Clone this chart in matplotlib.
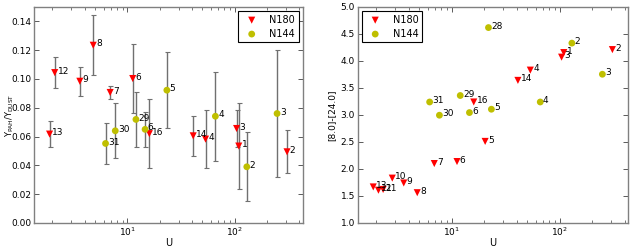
import numpy as np
import matplotlib
matplotlib.use('Agg')
import matplotlib.pyplot as plt

# N180 objects
n180_names = ['1', '2', '3', '4', '5', '6', '7', '8', '9', '10', '11', '12', '13', '14', '16']
n180_u = [109, 307, 104, 53.4, 20.4, 11.2, 6.9, 4.8, 3.6, 2.82, 2.32, 2.1, 1.88, 41, 16]
n180_ypah = [0.0534, 0.0494, 0.0656, 0.0582, np.nan, 0.1003, 0.0906, 0.1234, 0.0984,
             np.nan, np.nan, 0.1044, 0.0617, 0.0605, 0.062]
n180_err = [0.030, 0.015, 0.013, 0.020, np.nan, 0.024, 0.0047, 0.021, 0.010,
            np.nan, np.nan, 0.011, 0.009, 0.014, 0.024]
n180_col = [4.155, 4.21, 4.07, 3.83, 2.51, 2.137, 2.10, 1.56, 1.74, 1.83, 1.62, 1.606, 1.667, 3.64, 3.24]

# N144 objects
n144_names = ['2', '3', '4', '5', '6', '28', '29', '30', '31']
n144_u = [129.5, 248, 66, 23.3, 14.6, 21.9, 12.0, 7.7, 6.25]
n144_ypah = [0.039, 0.076, 0.0741, 0.0922, 0.065, np.nan, 0.0719, 0.064, 0.0552]
n144_err = [0.024, 0.044, 0.031, 0.0265, 0.012, np.nan, 0.019, 0.019, 0.014]
n144_col = [4.33, 3.754, 3.24, 3.106, 3.044, 4.618, 3.36, 2.995, 3.24]

red = '#ff0000'
yel = '#bfbf00'
fs = 6.5

fig = plt.figure(figsize=(6.32, 2.48), dpi=100)
ax1 = fig.add_axes([0.054, 0.101, 0.425, 0.871])
ax2 = fig.add_axes([0.566, 0.101, 0.428, 0.871])


def style(ax):
    ax.set_xscale('log')
    ax.set_xlim(1.35, 430)
    for s in ax.spines.values():
        s.set_color('#808080')
        s.set_linewidth(1.0)
    ax.tick_params(which='both', direction='in', top=True, right=True,
                   labelsize=fs, color='#404040', pad=2)
    ax.tick_params(which='major', length=3.5, width=0.6)
    ax.tick_params(which='minor', length=2, width=0.5)
    ax.set_xlabel('U', fontsize=fs + 0.5, labelpad=0)


def label(ax, xs, ys, names):
    for x, y, n in zip(xs, ys, names):
        if np.isnan(y):
            continue
        ax.annotate(n, (x, y), xytext=(2, 1), textcoords='offset points',
                    va='center', ha='left', fontsize=fs)


# left panel: Y_PAH / Y_DUST vs U
ax1.errorbar(n180_u, n180_ypah, yerr=n180_err, fmt='none', ecolor='#707070',
             elinewidth=1.0, capsize=1.8, capthick=0.8, zorder=1)
ax1.errorbar(n144_u, n144_ypah, yerr=n144_err, fmt='none', ecolor='#707070',
             elinewidth=1.0, capsize=1.8, capthick=0.8, zorder=1)
ax1.scatter(n180_u, n180_ypah, marker='v', s=26, color=red, edgecolors='none', zorder=3, label='N180')
ax1.scatter(n144_u, n144_ypah, marker='o', s=24, color=yel, edgecolors='none', zorder=3, label='N144')
label(ax1, n180_u, n180_ypah, n180_names)
label(ax1, n144_u, n144_ypah, n144_names)
style(ax1)
ax1.set_ylim(0, 0.15)
ax1.set_yticks(np.arange(0, 0.141, 0.02))
ax1.set_ylabel(r'$\mathregular{Y_{PAH}/Y_{DUST}}$', fontsize=6)
ax1.yaxis.set_label_coords(-0.068, 0.5)
leg1 = ax1.legend(loc='upper right', scatterpoints=1, fontsize=fs + 0.5, fancybox=False,
                  framealpha=1, edgecolor='black', borderpad=0.4, handletextpad=0.8,
                  borderaxespad=0.4, labelspacing=0.4)
leg1.get_frame().set_linewidth(0.8)

# right panel: [8.0]-[24.0] vs U
ax2.scatter(n180_u, n180_col, marker='v', s=26, color=red, edgecolors='none', zorder=3, label='N180')
ax2.scatter(n144_u, n144_col, marker='o', s=24, color=yel, edgecolors='none', zorder=3, label='N144')
label(ax2, n180_u, n180_col, n180_names)
label(ax2, n144_u, n144_col, n144_names)
style(ax2)
ax2.set_ylim(1.0, 5.0)
ax2.set_yticks(np.arange(1.0, 5.01, 0.5))
ax2.set_ylabel('[8.0]-[24.0]', fontsize=fs, labelpad=3)
leg2 = ax2.legend(loc='upper left', scatterpoints=1, fontsize=fs + 0.5, fancybox=False,
                  framealpha=1, edgecolor='black', borderpad=0.4, handletextpad=0.8,
                  borderaxespad=0.4, labelspacing=0.4)
leg2.get_frame().set_linewidth(0.8)

fig.savefig('out.png', dpi=100)
